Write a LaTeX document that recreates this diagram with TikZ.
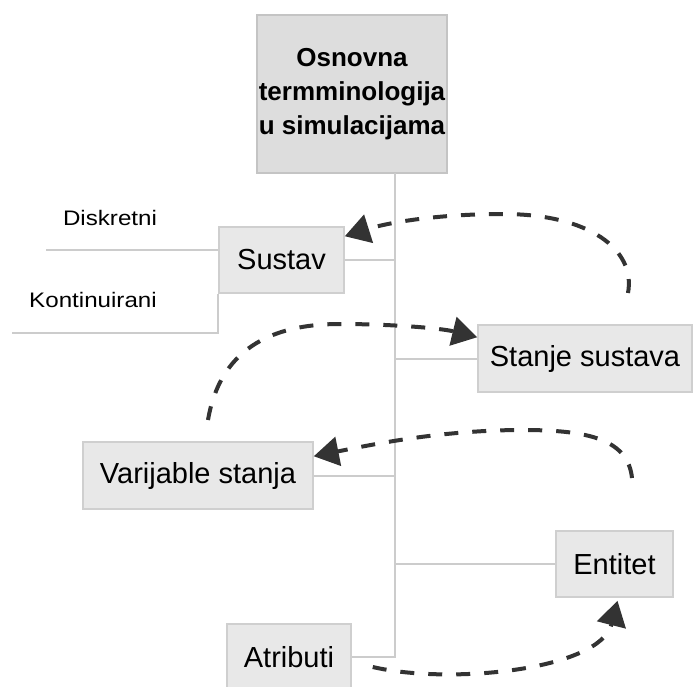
\documentclass[tikz,border=0pt]{standalone}
\usepackage{fontspec}
\setmainfont{Liberation Sans}
\newfontfamily\leaffont[FakeStretch=1.15]{Liberation Sans}
\usetikzlibrary{arrows.meta}

\definecolor{boxfill}{HTML}{E8E8E8}
\definecolor{boxline}{HTML}{CFCFCF}
\definecolor{topfill}{HTML}{DDDDDD}
\definecolor{topline}{HTML}{C4C4C4}
\definecolor{linkgray}{HTML}{CCCCCC}
\definecolor{flowgray}{HTML}{333333}

\begin{document}
\begin{tikzpicture}[x=1pt, y=-1pt,
    termbox/.style = {draw=boxline, fill=boxfill, line width=1.5pt, inner sep=0, font=\fontsize{29}{34}\selectfont},
    link/.style    = {draw=linkgray, line width=2pt},
    flow/.style    = {draw=flowgray, line width=4pt, dash pattern=on 14pt off 14pt, -{Triangle[length=25pt, width=29pt]}},
    leaf/.style    = {inner sep=0, font=\leaffont\fontsize{21}{24}\selectfont}]
    \clip (0,0) rectangle (694,686);

    \node[termbox, fill=topfill, draw=topline, minimum width=190pt, minimum height=158pt, align=center,
          font=\bfseries\fontsize{26}{34}\selectfont] (title) at (352,94) {Osnovna\\termminologija\\u simulacijama};
    \node[termbox, minimum width=125pt, minimum height=66pt] (sustav)    at (281.5,260) {Sustav};
    \node[termbox, minimum width=214pt, minimum height=67pt] (stanje)    at (585,358.5) {Stanje sustava};
    \node[termbox, minimum width=230pt, minimum height=67pt] (varijable) at (198,475.5) {Varijable stanja};
    \node[termbox, minimum width=117pt, minimum height=66pt] (entitet)   at (614.5,564) {Entitet};
    \node[termbox, minimum width=124pt, minimum height=66pt] (atributi)  at (289,657)   {Atributi};

    \node[leaf] (diskretni)    at (110,218) {Diskretni};
    \node[leaf] (kontinuirani) at (93,300)  {Kontinuirani};

    \coordinate (trunk0) at (395,173);
    \coordinate (trunk1) at (395,657);
    \coordinate (d0) at (46,250);
    \coordinate (k0) at (12,333);

    \draw[link] (trunk0) -- (trunk1) -- (atributi.east);
    \draw[link] (sustav.east)    -- (sustav.east -| trunk0);
    \draw[link] (stanje.west)    -- (stanje.west -| trunk0);
    \draw[link] (varijable.east) -- (varijable.east -| trunk0);
    \draw[link] (entitet.west)   -- (entitet.west -| trunk0);
    \draw[link] (d0) -- (d0 -| sustav.west);
    \draw[link] (k0) -| (sustav.south west);

    \coordinate (fa) at (628,293);
    \coordinate (fb) at (208,420);
    \coordinate (fc) at (632,478);
    \coordinate (fd) at ([xshift=21pt, yshift=-10pt]atributi.east);

    \draw[flow] (fa) .. controls (636,250) and (590,214) .. (503,214)
                     .. controls (440,214) and (390,222) .. ([yshift=-10pt]sustav.north east);
    \draw[flow] (fb) .. controls (220,350) and (270,324) .. (340,324)
                     .. controls (390,324) and (440,328) .. ([yshift=-13pt]stanje.north west);
    \draw[flow] (fc) .. controls (628,440) and (590,430) .. (523,430)
                     .. controls (440,430) and (370,445) .. ([yshift=-15pt]varijable.north east);
    \draw[flow] (fd) .. controls (450,685) and (600,670) .. ([xshift=3pt, yshift=-3pt]entitet.south);
\end{tikzpicture}
\end{document}
